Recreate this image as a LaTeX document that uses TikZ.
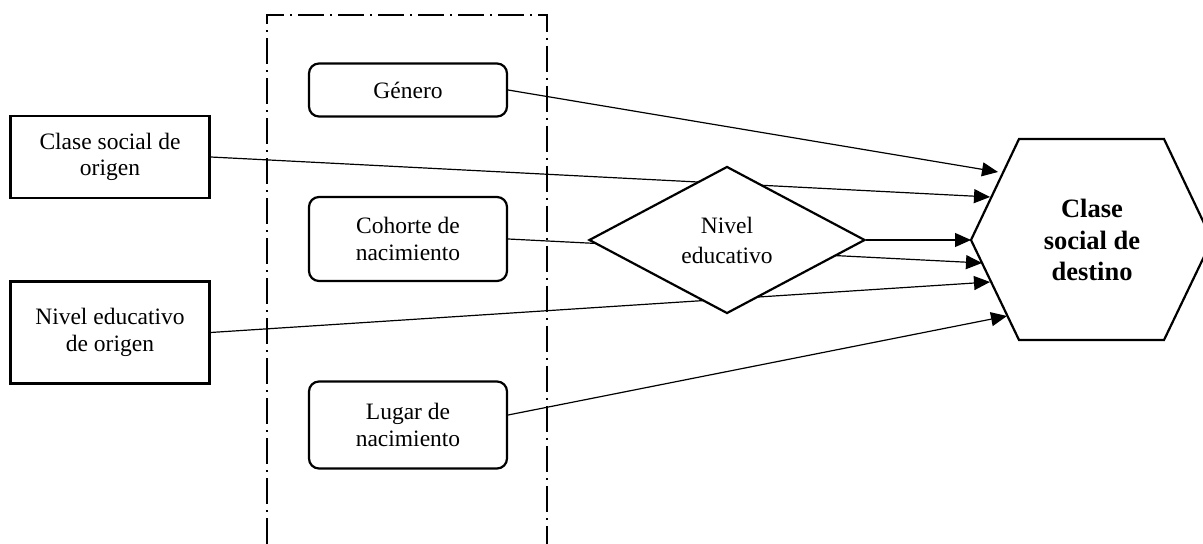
\documentclass[tikz,border=0pt]{standalone}
\usepackage{fontspec}
\setmainfont{Liberation Serif}
\usetikzlibrary{shapes.geometric,arrows.meta}
\begin{document}
\begin{tikzpicture}[x=0.5pt,y=-0.5pt,
  txt/.style={font=\fontsize{11.75}{13.3}\selectfont, align=center},
  sqbox/.style={txt, draw, line width=1.1pt, inner sep=0pt, minimum width=99.5pt},
  rbox/.style={txt, draw, line width=1.1pt, rounded corners=5pt, inner sep=0pt, minimum width=99pt},
  dmd/.style={txt, font=\fontsize{11.75}{15}\selectfont, draw, line width=1.1pt, diamond, shape aspect=1.88, inner sep=0pt, fill=white, minimum width=138pt, minimum height=73.5pt},
  hextext/.style={font=\fontsize{13.25}{15.75}\selectfont\bfseries, align=center},
  hexline/.style={line width=1.1pt, line join=miter},
  conn/.style={line width=0.6pt, -{Triangle[length=8pt,width=7pt]}},
  frame/.style={line width=1.2pt, dash pattern=on 13pt off 3pt on 1pt off 3pt}
]
\useasboundingbox (0,0) rectangle (1203,544);

% dash-dot frame
\draw[frame] (267,544) -- (267,15) -- (547,15) -- (547,544);

% left boxes
\node[sqbox, minimum height=41pt] (cso) at (110,157) {Clase social de\\origen};
\node[sqbox, minimum height=51pt] (neo) at (110,332.5) {Nivel educativo\\de origen};

% middle boxes
\node[rbox, minimum height=26.5pt] (gen) at (408,90) {Género};
\node[rbox, minimum height=42pt] (coh) at (408,239) {Cohorte de\\nacimiento};
\node[rbox, minimum height=43.5pt] (lug) at (408,425) {Lugar de\\nacimiento};

% hexagon
\node[hextext] (csd) at (1092,240) {Clase\\social de\\destino};
\draw[hexline] (971,240) -- (1019,139) -- (1164,139) -- (1212,240) -- (1164,340) -- (1019,340) -- cycle;
\coordinate (tg) at (998,172);
\coordinate (tc) at (990,197);
\coordinate (tn) at (971,240);
\coordinate (th) at (982,263);
\coordinate (te) at (990,282);
\coordinate (tl) at (1007,316);

% connectors (behind diamond)
\draw[conn] (gen.east) -- (tg);
\draw[conn] (cso.east) -- (tc);
\draw[conn] (coh.east) -- (th);
\draw[conn] (neo.east) -- (te);
\draw[conn] ([yshift=5pt]lug.east) -- (tl);

% diamond
\node[dmd] (nie) at (727,240) {Nivel\\educativo};
\draw[conn] (nie.east) -- (tn);
\end{tikzpicture}
\end{document}
